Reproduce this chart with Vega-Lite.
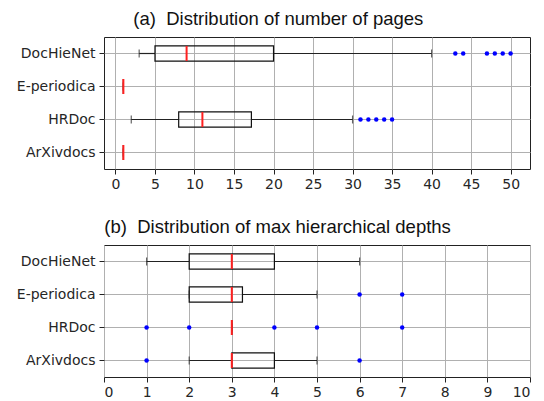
{
  "$schema": "https://vega.github.io/schema/vega-lite/v6.json",
  "padding": {"left": 15, "top": 9, "right": 5, "bottom": 0},
  "background": "white",
  "datasets": {
    "boxes": [
      {"panel": "a", "name": "DocHieNet", "lo": 3, "q1": 5, "med": 9, "q3": 20, "hi": 40},
      {"panel": "a", "name": "E-periodica", "lo": 1, "q1": 1, "med": 1, "q3": 1, "hi": 1},
      {"panel": "a", "name": "HRDoc", "lo": 2, "q1": 8, "med": 11, "q3": 17.2, "hi": 30},
      {"panel": "a", "name": "ArXivdocs", "lo": 1, "q1": 1, "med": 1, "q3": 1, "hi": 1},
      {"panel": "b", "name": "DocHieNet", "lo": 1, "q1": 2, "med": 3, "q3": 4, "hi": 6},
      {"panel": "b", "name": "E-periodica", "lo": 2, "q1": 2, "med": 3, "q3": 3.25, "hi": 5},
      {"panel": "b", "name": "HRDoc", "lo": 3, "q1": 3, "med": 3, "q3": 3, "hi": 3},
      {"panel": "b", "name": "ArXivdocs", "lo": 2, "q1": 3, "med": 3, "q3": 4, "hi": 5}
    ],
    "outliers": [
      {"panel": "a", "name": "DocHieNet", "value": 43},
      {"panel": "a", "name": "DocHieNet", "value": 44},
      {"panel": "a", "name": "DocHieNet", "value": 47},
      {"panel": "a", "name": "DocHieNet", "value": 48},
      {"panel": "a", "name": "DocHieNet", "value": 49},
      {"panel": "a", "name": "DocHieNet", "value": 50},
      {"panel": "a", "name": "HRDoc", "value": 31},
      {"panel": "a", "name": "HRDoc", "value": 32},
      {"panel": "a", "name": "HRDoc", "value": 33},
      {"panel": "a", "name": "HRDoc", "value": 34},
      {"panel": "a", "name": "HRDoc", "value": 35},
      {"panel": "b", "name": "E-periodica", "value": 6},
      {"panel": "b", "name": "E-periodica", "value": 7},
      {"panel": "b", "name": "HRDoc", "value": 1},
      {"panel": "b", "name": "HRDoc", "value": 2},
      {"panel": "b", "name": "HRDoc", "value": 4},
      {"panel": "b", "name": "HRDoc", "value": 5},
      {"panel": "b", "name": "HRDoc", "value": 7},
      {"panel": "b", "name": "ArXivdocs", "value": 1},
      {"panel": "b", "name": "ArXivdocs", "value": 6}
    ]
  },
  "spacing": 25,
  "vconcat": [
    {
      "width": 426,
      "height": 132,
      "title": {"text": "(a)\u00a0 Distribution of number of pages", "anchor": "start", "dx": 117, "offset": 9},
      "encoding": {
        "y": {"field": "name", "type": "nominal", "sort": ["DocHieNet", "E-periodica", "HRDoc", "ArXivdocs"], "scale": {"paddingInner": 0, "paddingOuter": 0}, "axis": {"title": null}}
      },
      "layer": [
        {
          "data": {"name": "boxes"},
          "transform": [{"filter": "datum.panel == 'a'"}],
          "mark": {"type": "rule", "color": "#222", "strokeWidth": 1.2},
          "encoding": {
            "x": {"field": "lo", "type": "quantitative", "scale": {"domain": [-1.45, 52.45], "nice": false, "zero": false}, "axis": {"title": null, "values": [0, 5, 10, 15, 20, 25, 30, 35, 40, 45, 50]}},
            "x2": {"field": "q1"}
          }
        },
        {
          "data": {"name": "boxes"},
          "transform": [{"filter": "datum.panel == 'a'"}],
          "mark": {"type": "rule", "color": "#222", "strokeWidth": 1.2},
          "encoding": {
            "x": {"field": "q3", "type": "quantitative"},
            "x2": {"field": "hi"}
          }
        },
        {
          "data": {"name": "boxes"},
          "transform": [{"filter": "datum.panel == 'a'"}],
          "mark": {"type": "bar", "fillOpacity": 0, "stroke": "#111", "strokeWidth": 1.2, "height": {"band": 0.46}},
          "encoding": {
            "x": {"field": "q1", "type": "quantitative"},
            "x2": {"field": "q3"}
          }
        },
        {
          "data": {"name": "boxes"},
          "transform": [{"filter": "datum.panel == 'a'"}],
          "mark": {"type": "tick", "orient": "vertical", "size": 8, "thickness": 1.2, "color": "#222"},
          "encoding": {"x": {"field": "lo", "type": "quantitative"}}
        },
        {
          "data": {"name": "boxes"},
          "transform": [{"filter": "datum.panel == 'a'"}],
          "mark": {"type": "tick", "orient": "vertical", "size": 8, "thickness": 1.2, "color": "#222"},
          "encoding": {"x": {"field": "hi", "type": "quantitative"}}
        },
        {
          "data": {"name": "boxes"},
          "transform": [{"filter": "datum.panel == 'a'"}],
          "mark": {"type": "tick", "orient": "vertical", "size": 15, "thickness": 2, "color": "#ff2020", "opacity": 1},
          "encoding": {"x": {"field": "med", "type": "quantitative"}}
        },
        {
          "data": {"name": "outliers"},
          "transform": [{"filter": "datum.panel == 'a'"}],
          "mark": {"type": "point", "filled": true, "color": "#0000ff", "size": 20, "opacity": 1},
          "encoding": {"x": {"field": "value", "type": "quantitative"}}
        }
      ]
    },
    {
      "width": 426,
      "height": 132,
      "title": {"text": "(b)\u00a0 Distribution of max hierarchical depths", "anchor": "start", "dx": 88, "offset": 9},
      "encoding": {
        "y": {"field": "name", "type": "nominal", "sort": ["DocHieNet", "E-periodica", "HRDoc", "ArXivdocs"], "scale": {"paddingInner": 0, "paddingOuter": 0}, "axis": {"title": null}}
      },
      "layer": [
        {
          "data": {"name": "boxes"},
          "transform": [{"filter": "datum.panel == 'b'"}],
          "mark": {"type": "rule", "color": "#222", "strokeWidth": 1.2},
          "encoding": {
            "x": {"field": "lo", "type": "quantitative", "scale": {"domain": [0, 10], "nice": false, "zero": false}, "axis": {"title": null, "values": [0, 1, 2, 3, 4, 5, 6, 7, 8, 9, 10]}},
            "x2": {"field": "q1"}
          }
        },
        {
          "data": {"name": "boxes"},
          "transform": [{"filter": "datum.panel == 'b'"}],
          "mark": {"type": "rule", "color": "#222", "strokeWidth": 1.2},
          "encoding": {
            "x": {"field": "q3", "type": "quantitative"},
            "x2": {"field": "hi"}
          }
        },
        {
          "data": {"name": "boxes"},
          "transform": [{"filter": "datum.panel == 'b'"}],
          "mark": {"type": "bar", "fillOpacity": 0, "stroke": "#111", "strokeWidth": 1.2, "height": {"band": 0.46}},
          "encoding": {
            "x": {"field": "q1", "type": "quantitative"},
            "x2": {"field": "q3"}
          }
        },
        {
          "data": {"name": "boxes"},
          "transform": [{"filter": "datum.panel == 'b'"}],
          "mark": {"type": "tick", "orient": "vertical", "size": 8, "thickness": 1.2, "color": "#222"},
          "encoding": {"x": {"field": "lo", "type": "quantitative"}}
        },
        {
          "data": {"name": "boxes"},
          "transform": [{"filter": "datum.panel == 'b'"}],
          "mark": {"type": "tick", "orient": "vertical", "size": 8, "thickness": 1.2, "color": "#222"},
          "encoding": {"x": {"field": "hi", "type": "quantitative"}}
        },
        {
          "data": {"name": "boxes"},
          "transform": [{"filter": "datum.panel == 'b'"}],
          "mark": {"type": "tick", "orient": "vertical", "size": 15, "thickness": 2, "color": "#ff2020", "opacity": 1},
          "encoding": {"x": {"field": "med", "type": "quantitative"}}
        },
        {
          "data": {"name": "outliers"},
          "transform": [{"filter": "datum.panel == 'b'"}],
          "mark": {"type": "point", "filled": true, "color": "#0000ff", "size": 20, "opacity": 1},
          "encoding": {"x": {"field": "value", "type": "quantitative"}}
        }
      ]
    }
  ],
  "config": {
    "view": {"stroke": "#222", "strokeWidth": 1},
    "title": {"font": "Liberation Sans", "fontSize": 18.5, "fontWeight": "normal", "color": "#111"},
    "axis": {
      "grid": true,
      "gridColor": "#b0b0b0",
      "gridWidth": 1,
      "gridOpacity": 1,
      "domain": false,
      "tickColor": "#222",
      "tickSize": 5,
      "labelFont": "DejaVu Sans",
      "labelFontSize": 14,
      "labelColor": "#262626",
      "labelPadding": 3
    },
    "axisY": {"bandPosition": 0.5, "grid": true, "labelPadding": 4},
    "axisX": {"labelPadding": 3}
  }
}
